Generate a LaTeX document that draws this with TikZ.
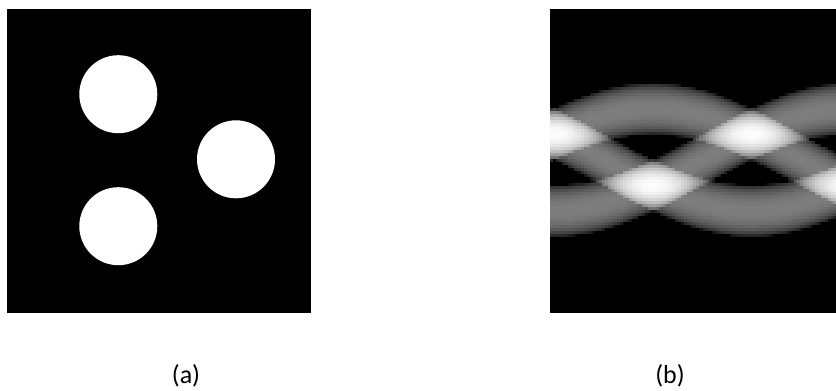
\documentclass[tikz,border=0pt]{standalone}
\usepackage{fontspec}
\setmainfont{Carlito}
\definecolor{phantombg}{HTML}{000000}
\definecolor{phantomfg}{HTML}{FFFFFF}

\begin{document}
\begin{tikzpicture}[x=1pt,y=-1pt]
  \useasboundingbox (0,0) rectangle (836,391);
  \clip (0,0) rectangle (836,391);
  % (a) phantom with three discs
  \fill[phantombg] (6.5,9) rectangle (311,313);
  \foreach \cx/\cy in {118.3/94.2, 236/159.3, 118.3/226.2}
    \fill[phantomfg] (\cx,\cy) circle[radius=39];
  % (b) sinogram, one cell at a time
  \fill[phantombg] (550,9) rectangle (855,313);
  \foreach \col in {0,...,94} {
    \pgfmathsetmacro{\xa}{550+3.05*\col}
    \pgfmathsetmacro{\th}{(\xa+1.525-653)*0.6093}
    \pgfmathsetmacro{\ya}{160-51*cos(\th)}
    \pgfmathsetmacro{\yb}{160-51*cos(\th-120)}
    \pgfmathsetmacro{\yc}{160-51*cos(\th-240)}
    \foreach \row in {0,...,57} {
      \pgfmathsetmacro{\yy}{75+3*\row}
      \pgfmathsetmacro{\da}{(\yy+1.5-\ya)/26}
      \pgfmathsetmacro{\db}{(\yy+1.5-\yb)/26}
      \pgfmathsetmacro{\dc}{(\yy+1.5-\yc)/26}
      \pgfmathtruncatemacro{\gv}{min(100,50*(sqrt(max(0,1-\da*\da))+sqrt(max(0,1-\db*\db))+sqrt(max(0,1-\dc*\dc))))}
      \fill[white!\gv!black] (\xa,\yy) rectangle ++(3.4,3.4);
    }
  }
  % captions
  \node[anchor=base, font=\fontsize{26}{30}\selectfont] (capa) at (186,383) {(a)};
  \node[anchor=base, font=\fontsize{26}{30}\selectfont] (capb) at (670,383) {(b)};
\end{tikzpicture}
\end{document}
